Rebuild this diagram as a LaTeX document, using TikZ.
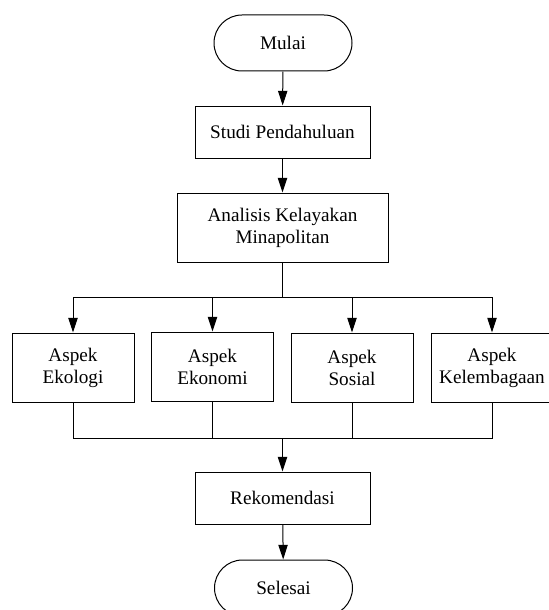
\documentclass[tikz,border=0pt]{standalone}
\usepackage{fontspec}
\setmainfont{Liberation Serif}
\usetikzlibrary{arrows.meta, shapes.misc}

\begin{document}
\begin{tikzpicture}[
  x=0.75pt,
  y=-0.75pt,
  line width=0.75pt,
  font=\fontsize{14.4}{16.6}\selectfont,
  every node/.style={draw, align=center, inner sep=0mm},
  term/.style={rounded rectangle, minimum width=103.5pt, minimum height=42pt},
  box/.style={rectangle, minimum width=131.25pt, minimum height=39pt},
  aspek/.style={rectangle, minimum width=91.5pt, minimum height=51.75pt},
  arr/.style={-{Triangle[length=11pt, width=7pt]}}
  ]
\useasboundingbox (0,0) rectangle (549,610);
\path
  (283,43) node[term] (mulai) {Mulai}
  (282.5,132) node[box] (studi) {Studi Pendahuluan}
  (282.5,227.5) node[box, minimum width=158.25pt, minimum height=51.75pt]
    (analisis) {Analisis Kelayakan\\Minapolitan}
  (73,367.5) node[aspek] (ekologi) {Aspek\\Ekologi}
  (212.5,366.5) node[aspek] (ekonomi) {Aspek\\Ekonomi}
  (352,367.5) node[aspek] (sosial) {Aspek\\Sosial}
  (492,367.5) node[aspek] (lembaga) {Aspek\\Kelembagaan}
  (282.5,498) node[box] (rekom) {Rekomendasi}
  (283.5,588) node[term] (selesai) {Selesai}
  ;
\coordinate (split) at (282.5,297);
\coordinate (join) at (282.5,438);
\draw[arr] (mulai) -- (studi);
\draw[arr] (studi) -- (analisis);
\draw (analisis) -- (split);
\foreach \n in {ekologi, ekonomi, sosial, lembaga}{
  \draw[arr] (split) -| (\n);
  \draw (\n) |- (join);}
\draw[arr] (join) -- (rekom);
\draw[arr] (rekom) -- (selesai);
\end{tikzpicture}
\end{document}
